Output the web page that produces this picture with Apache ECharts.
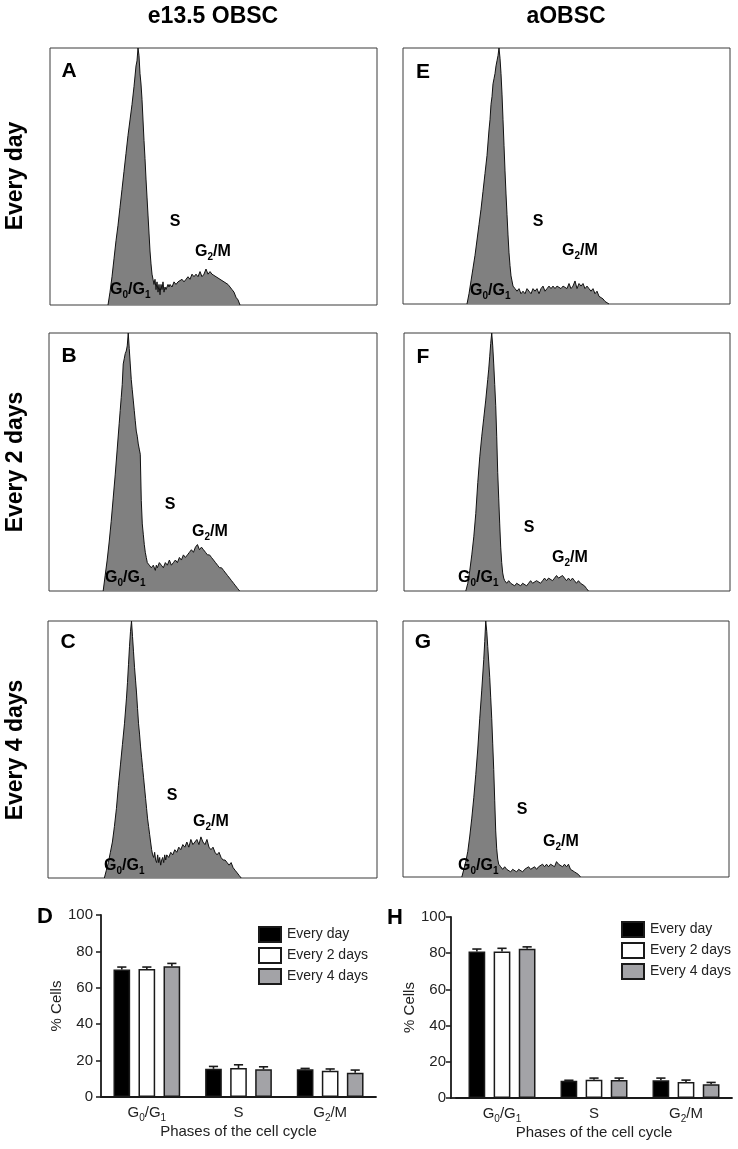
<!DOCTYPE html>
<html>
<head>
<meta charset="utf-8">
<script src="https://cdn.jsdelivr.net/npm/echarts@6/dist/echarts.min.js"></script>
<style>
html,body{margin:0;padding:0;background:#fff;}
#main{width:738px;height:1149px;}
</style>
</head>
<body>
<div id="main"></div>
<script>
// ---------- DATA ----------
const columnTitles = ['e13.5 OBSC', 'aOBSC'];
const rowLabels = ['Every day', 'Every 2 days', 'Every 4 days'];
const phases = ['G0/G1', 'S', 'G2/M'];
const groups = ['Every day', 'Every 2 days', 'Every 4 days'];

// DNA-content histograms: [channel, relative count %]
const histA = [[58,0],[60,5],[62,11],[64,18],[66,25],[68,31],[70,38],[72,45],[74,52],[76,59],[78,66],[80,72],[82,78],[84,85],[86,93],[87,95],[88,100],[89,97],[90,90],[91,86],[92,80],[93,72],[94,64],[95,57],[96,49],[97,42],[98,35],[99,28],[100,21],[101,16],[102,12],[103,10],[104,8],[105,10],[106,6],[107,9],[108,5],[109,8],[110,4],[111,8],[112,6],[113,9],[114,5],[115,7],[116,6],[118,8],[119,7],[120,8],[122,7],[124,9],[126,8],[128,9],[130,9],[132,10],[134,9],[136,10],[138,11],[140,10],[142,12],[144,11],[146,12],[148,11],[150,13],[152,11],[154,12],[156,14],[158,12],[160,13],[162,12],[164,12],[166,11],[168,11],[170,10],[172,10],[174,9],[176,9],[178,8],[180,7],[182,6],[184,5],[186,3],[188,2],[190,0]];
const histB = [[54,0],[56,6],[58,12],[60,19],[62,27],[64,36],[66,45],[68,55],[70,65],[71,70],[72,75],[73,80],[74,88],[75,90],[76,92],[77,93],[78,95],[79,100],[80,94],[81,88],[82,82],[83,78],[84,74],[85,70],[86,66],[87,62],[88,60],[89,57],[90,55],[91,53],[92,35],[93,26],[94,22],[95,18],[96,15],[97,13],[98,11],[100,10],[102,9],[104,10],[106,8],[107,10],[108,9],[110,11],[112,10],[114,9],[116,11],[118,10],[120,12],[122,10],[124,11],[126,12],[128,11],[130,13],[132,12],[134,14],[136,13],[138,14],[140,15],[142,16],[144,15],[146,17],[148,18],[150,16],[152,17],[154,16],[156,15],[158,14],[160,14],[162,13],[164,12],[166,11],[168,10],[170,9],[172,9],[174,8],[176,7],[178,6],[180,5],[182,4],[184,3],[186,2],[188,1],[190,0]];
const histC = [[56,0],[58,3],[60,6],[62,10],[64,14],[66,20],[68,27],[70,36],[72,44],[74,52],[76,60],[78,70],[79,76],[80,83],[81,90],[82,96],[83,100],[84,94],[85,88],[86,82],[87,77],[88,72],[89,66],[90,60],[91,56],[92,51],[93,47],[94,43],[95,39],[96,35],[97,31],[98,27],[99,23],[100,20],[101,17],[102,14],[103,11],[104,9],[105,8],[106,10],[107,7],[108,6],[109,9],[110,6],[111,8],[112,5],[113,7],[114,8],[115,6],[116,9],[117,7],[118,9],[120,8],[122,10],[124,9],[126,11],[128,10],[130,12],[132,11],[134,13],[136,12],[138,14],[140,12],[142,15],[144,13],[146,14],[148,15],[150,13],[152,16],[154,14],[156,13],[158,15],[160,12],[162,11],[164,12],[166,10],[168,9],[170,10],[172,8],[174,7],[176,7],[178,6],[180,5],[182,6],[184,4],[186,3],[188,2],[190,1],[192,0]];
const histE = [[64,0],[66,4],[68,9],[70,14],[72,19],[74,25],[76,31],[78,37],[80,44],[82,51],[84,58],[86,68],[87,72],[88,78],[89,81],[90,86],[91,88],[92,90],[93,93],[94,95],[95,97],[96,100],[97,96],[98,90],[99,82],[100,72],[101,62],[102,52],[103,43],[104,35],[105,27],[106,20],[107,15],[108,11],[109,9],[110,7],[112,6],[114,5],[116,6],[118,4],[120,5],[122,4],[124,6],[126,5],[128,4],[130,6],[132,5],[134,6],[136,4],[138,6],[140,7],[142,5],[144,6],[146,7],[148,6],[150,7],[152,6],[154,7],[156,7],[158,6],[160,7],[162,7],[164,6],[166,8],[168,6],[170,7],[172,9],[174,6],[176,8],[178,7],[180,8],[182,6],[184,7],[186,6],[188,5],[190,6],[192,4],[194,5],[196,3],[198,3],[200,2],[202,1],[204,1],[206,0]];
const histF = [[62,0],[64,3],[66,8],[68,14],[70,21],[72,30],[74,42],[76,52],[78,60],[80,67],[82,74],[84,82],[85,86],[86,91],[87,96],[88,100],[89,95],[90,88],[91,80],[92,72],[93,60],[94,46],[95,36],[96,26],[97,17],[98,11],[99,7],[100,5],[101,4],[103,3],[105,4],[107,3],[109,3],[111,2],[113,3],[115,3],[117,2],[119,3],[121,3],[123,2],[125,3],[127,4],[129,3],[131,3],[133,4],[135,4],[137,3],[139,4],[141,5],[143,4],[145,5],[147,5],[149,4],[151,5],[153,6],[155,5],[157,5],[159,6],[161,5],[163,4],[165,5],[167,4],[169,5],[171,4],[173,3],[175,4],[177,3],[179,3],[181,2],[183,1],[185,0]];
const histG = [[59,0],[61,3],[63,6],[65,10],[67,16],[69,23],[71,31],[73,40],[75,50],[77,62],[79,73],[81,85],[82,92],[83,100],[84,96],[85,90],[86,84],[87,78],[88,70],[89,62],[90,52],[91,42],[92,30],[93,18],[94,11],[95,7],[96,5],[98,4],[100,3],[102,4],[104,3],[106,3],[108,2],[110,3],[112,3],[114,2],[116,3],[118,3],[120,2],[122,3],[124,3],[126,4],[128,3],[130,3],[132,4],[134,3],[136,4],[138,4],[140,5],[142,4],[144,5],[146,4],[148,5],[150,5],[152,4],[154,6],[156,5],[158,5],[160,4],[162,5],[164,4],[166,5],[168,3],[170,3],[172,2],[174,2],[176,1],[178,0]];

// % cells (mean) and error (SEM) per phase
const dEveryDay = [70.0, 15.5, 15.2];
const dEvery2 = [70.3, 15.9, 14.4];
const dEvery4 = [71.8, 15.2, 13.3];
const dErrDay = [1.4, 1.3, 0.5];
const dErr2 = [1.1, 1.8, 1.0];
const dErr4 = [1.6, 1.4, 1.5];

const hEveryDay = [81.0, 9.5, 9.8];
const hEvery2 = [81.0, 10.1, 8.9];
const hEvery4 = [82.5, 9.9, 7.6];
const hErrDay = [1.3, 0.3, 1.2];
const hErr2 = [1.7, 0.9, 1.0];
const hErr4 = [1.0, 1.1, 1.0];

const yTicks = [0, 20, 40, 60, 80, 100];

// ---------- LAYOUT / STYLE ----------
const FONT = "'Liberation Sans', Arial, Helvetica, sans-serif";
const histPanels = [
  {id:'A', data:histA, grid:{left:50, top:48, width:327, height:257}, letter:[69,71], s:[175,222], g2:[195,252], g0:[110,290]},
  {id:'B', data:histB, grid:{left:49, top:333, width:328, height:258}, letter:[69,356], s:[170,505], g2:[192,532], g0:[105,578]},
  {id:'C', data:histC, grid:{left:48, top:621, width:329, height:257}, letter:[68,642], s:[172,796], g2:[193,822], g0:[104,866]},
  {id:'E', data:histE, grid:{left:403, top:48, width:327, height:256}, letter:[423,72], s:[538,222], g2:[562,251], g0:[470,291]},
  {id:'F', data:histF, grid:{left:404, top:333, width:326, height:258}, letter:[423,357], s:[529,528], g2:[552,558], g0:[458,578]},
  {id:'G', data:histG, grid:{left:403, top:621, width:326, height:256}, letter:[423,642], s:[522,810], g2:[543,842], g0:[458,866]}
];

const grids = [], xAxes = [], yAxes = [], series = [], graphics = [];

const annRich = {
  n: {fontFamily: FONT, fontWeight: 'bold', fontSize: 16, lineHeight: 20, verticalAlign: 'middle', fill:'#000', color:'#000'},
  s: {fontFamily: FONT, fontWeight: 'bold', fontSize: 10, lineHeight: 10, verticalAlign: 'bottom', fill:'#000', color:'#000'}
};

histPanels.forEach((p, i) => {
  grids.push(Object.assign({show: true, borderColor: '#3a3a3a', borderWidth: 1, backgroundColor: '#fff'}, p.grid));
  xAxes.push({type: 'value', gridIndex: i, min: 0, max: 327, show: false});
  yAxes.push({type: 'value', gridIndex: i, min: 0, max: 100, show: false});
  series.push({
    type: 'line', xAxisIndex: i, yAxisIndex: i, data: p.data, symbol: 'none', silent: true,
    lineStyle: {color: '#111', width: 1}, areaStyle: {color: '#808080', opacity: 1}, z: 2
  });
  graphics.push({type:'text', x:p.letter[0], y:p.letter[1], z:10,
    style:{text:p.id, font:`bold 21px ${FONT}`, fill:'#000', textAlign:'center', textVerticalAlign:'middle'}});
  graphics.push({type:'text', x:p.s[0], y:p.s[1], z:10,
    style:{text:'S', font:`bold 16px ${FONT}`, fill:'#000', textAlign:'center', textVerticalAlign:'middle'}});
  graphics.push({type:'text', x:p.g2[0], y:p.g2[1], z:10,
    style:{text:'{n|G}{s|2}{n|/M}', rich:annRich, textAlign:'left', textVerticalAlign:'middle'}});
  graphics.push({type:'text', x:p.g0[0], y:p.g0[1], z:10,
    style:{text:'{n|G}{s|0}{n|/G}{s|1}', rich:annRich, textAlign:'left', textVerticalAlign:'middle'}});
});

// column titles and row labels
graphics.push({type:'text', x:213, y:17, style:{text:columnTitles[0], font:`bold 23px ${FONT}`, fill:'#000', textAlign:'center', textVerticalAlign:'middle'}});
graphics.push({type:'text', x:566, y:17, style:{text:columnTitles[1], font:`bold 23px ${FONT}`, fill:'#000', textAlign:'center', textVerticalAlign:'middle'}});
[176, 462, 750].forEach((cy, k) => {
  graphics.push({type:'text', x:16, y:cy, rotation: Math.PI/2,
    style:{text:rowLabels[k], font:`bold 23px ${FONT}`, fill:'#000', textAlign:'center', textVerticalAlign:'middle'}});
});

// ---------- BAR CHARTS ----------
const barColors = ['#000000', '#ffffff', '#a3a3a7'];
const phaseRich = {
  n: {fontFamily: FONT, fontSize: 15, lineHeight: 20, verticalAlign: 'middle', color: '#222'},
  s: {fontFamily: FONT, fontSize: 10, lineHeight: 10, verticalAlign: 'bottom', color: '#222'}
};
function phaseFmt(v) {
  if (v === 'G0/G1') return '{n|G}{s|0}{n|/G}{s|1}';
  if (v === 'G2/M') return '{n|G}{s|2}{n|/M}';
  return '{n|' + v + '}';
}
const BAR_FRAC = 0.182, GAP_FRAC = 0.5;
function errSeries(gi, values, errs, k) {
  const off = (k - 1) * BAR_FRAC * (1 + GAP_FRAC);
  return {
    type: 'custom', xAxisIndex: gi, yAxisIndex: gi, z: 5, silent: true,
    data: values.map((v, j) => [j, v, errs[j]]),
    renderItem: (params, api) => {
      const base = api.coord([api.value(0), api.value(1)]);
      const top = api.coord([api.value(0), api.value(1) + api.value(2)]);
      const band = api.size([1, 0])[0];
      const x = base[0] + off * band;
      const cap = band * 0.05;
      const st = {stroke: '#1a1a1a', lineWidth: 1.6};
      return {type: 'group', children: [
        {type: 'line', shape: {x1: x, y1: base[1], x2: x, y2: top[1]}, style: st},
        {type: 'line', shape: {x1: x - cap, y1: top[1], x2: x + cap, y2: top[1]}, style: st}
      ]};
    }
  };
}
const barCharts = [
  {letter:'D', lpos:[45,917], grid:{left:101, top:915, width:275, height:182}, yOffset:0, nameGap:34, labelMargin:7,
   vals:[dEveryDay, dEvery2, dEvery4], errs:[dErrDay, dErr2, dErr4], legend:{left:258, top:926}},
  {letter:'H', lpos:[395,918], grid:{left:456, top:917, width:276, height:181}, yOffset:5, nameGap:27, labelMargin:4,
   vals:[hEveryDay, hEvery2, hEvery4], errs:[hErrDay, hErr2, hErr4], legend:{left:621, top:921}}
];
const legends = [];
barCharts.forEach((bc, b) => {
  const gi = grids.length;
  grids.push(Object.assign({show:false}, bc.grid));
  xAxes.push({
    type: 'category', gridIndex: gi, data: phases,
    axisLine: {lineStyle: {color: '#1a1a1a', width: 1.8}},
    axisTick: {alignWithLabel: true, interval: 0, length: 5, lineStyle: {color: '#1a1a1a', width: 1.5}},
    axisLabel: {margin: 6, interval: 0, hideOverlap: false, formatter: phaseFmt, rich: phaseRich},
    name: 'Phases of the cell cycle', nameLocation: 'middle', nameGap: 27,
    nameTextStyle: {fontFamily: FONT, fontSize: 15, color: '#222'}
  });
  yAxes.push({
    type: 'value', gridIndex: gi, min: 0, max: 100, interval: 20, offset: bc.yOffset,
    axisLine: {show: true, lineStyle: {color: '#1a1a1a', width: 1.8}},
    axisTick: {show: true, length: 5, lineStyle: {color: '#1a1a1a', width: 1.5}},
    splitLine: {show: false},
    axisLabel: {margin: bc.labelMargin + 1, fontFamily: FONT, fontSize: 15, color: '#222',
      formatter: v => yTicks.includes(v) ? String(v) : ''},
    name: '% Cells', nameLocation: 'middle', nameGap: bc.nameGap, nameRotate: 90,
    nameTextStyle: {fontFamily: FONT, fontSize: 15, color: '#222'}
  });
  groups.forEach((g, k) => {
    series.push({
      type: 'bar', name: g, xAxisIndex: gi, yAxisIndex: gi, data: bc.vals[k],
      barWidth: (BAR_FRAC * 100) + '%', barGap: (GAP_FRAC * 100) + '%',
      itemStyle: {color: barColors[k], borderColor: '#1a1a1a', borderWidth: 1.5},
      z: 3, silent: true
    });
  });
  groups.forEach((g, k) => series.push(errSeries(gi, bc.vals[k], bc.errs[k], k)));
  legends.push({
    orient: 'vertical', left: bc.legend.left, top: bc.legend.top, data: groups, padding: 0,
    itemWidth: 22, itemHeight: 15, itemGap: 4, icon: 'rect', selectedMode: false,
    textStyle: {fontFamily: FONT, fontSize: 14, color: '#222', padding: [0, 0, 0, 1]}
  });
  graphics.push({type:'text', x:bc.lpos[0], y:bc.lpos[1],
    style:{text:bc.letter, font:`bold 22px ${FONT}`, fill:'#000', textAlign:'center', textVerticalAlign:'middle'}});
});
// join of H x-axis line to its offset y-axis
graphics.push({type:'line', shape:{x1:450, y1:1098, x2:457, y2:1098}, style:{stroke:'#1a1a1a', lineWidth:1.8}});

const chart = echarts.init(document.getElementById('main'), null, {renderer: 'canvas'});
chart.setOption({
  animation: false,
  backgroundColor: '#fff',
  textStyle: {fontFamily: FONT},
  grid: grids, xAxis: xAxes, yAxis: yAxes, series: series,
  legend: legends,
  graphic: {elements: graphics}
});
</script>
</body>
</html>
